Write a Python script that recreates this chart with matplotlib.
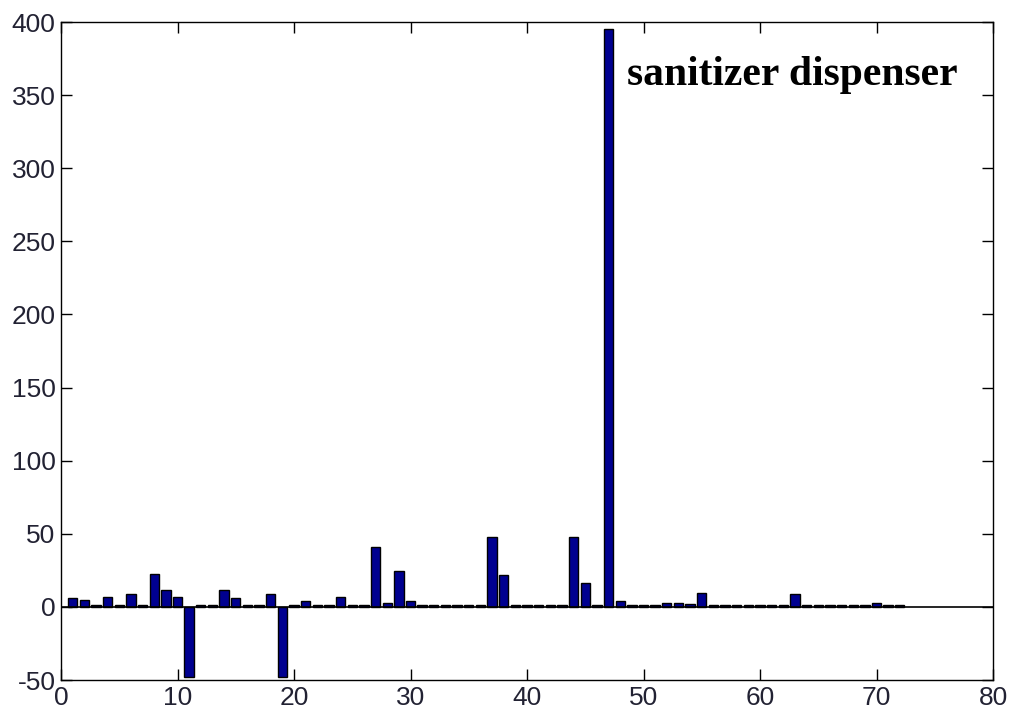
import matplotlib
matplotlib.use("Agg")
import matplotlib.pyplot as plt

positions = list(range(1, 73))
values = [6, 4.5, 1.5, 7, 1.5, 8.5, 1.5, 22.5, 11.5, 7,
          -48, 1, 1, 11.5, 6, 1, 1, 8.5, -48, 1,
          4, 1, 1, 6.5, 1, 1, 41, 2.5, 24.5, 4,
          1, 1, 1, 1, 1, 1, 48, 21.5, 1, 1,
          1, 1, 1, 48, 16.5, 1, 395, 4, 1, 1,
          1, 2.5, 2.5, 2, 9.5, 1, 1, 1, 1, 1,
          1, 1, 8.5, 1, 1, 1, 1, 1, 1, 2.5,
          1, 1]
xticks = [0, 10, 20, 30, 40, 50, 60, 70, 80]
yticks = [-50, 0, 50, 100, 150, 200, 250, 300, 350, 400]
annotation = "sanitizer dispenser"

plt.rcParams['font.family'] = ['Liberation Sans', 'DejaVu Sans']
plt.rcParams['axes.unicode_minus'] = False
fig = plt.figure(figsize=(10.16, 7.18), dpi=100)
ax = fig.add_axes([61/1016, 1 - 680/718, (993-61)/1016, (680-22)/718])

ax.bar(positions, values, width=0.8, color='#000090', edgecolor='black', linewidth=1.0, zorder=2)
ax.axhline(0, color='black', linewidth=1.2, zorder=3)

ax.set_xlim(0, 80)
ax.set_ylim(-50, 400)
ax.set_xticks(xticks)
ax.set_yticks(yticks)
ax.tick_params(direction='in', top=True, right=True, length=8, width=1,
               labelsize=19, pad=4, labelcolor='#222233')
for s in ax.spines.values():
    s.set_linewidth(1.0)

ax.text(48.6, 357, annotation, fontsize=30, fontweight='bold',
        family=['Liberation Serif', 'DejaVu Serif'], va='baseline', ha='left')

fig.savefig('out.png', dpi=100)
